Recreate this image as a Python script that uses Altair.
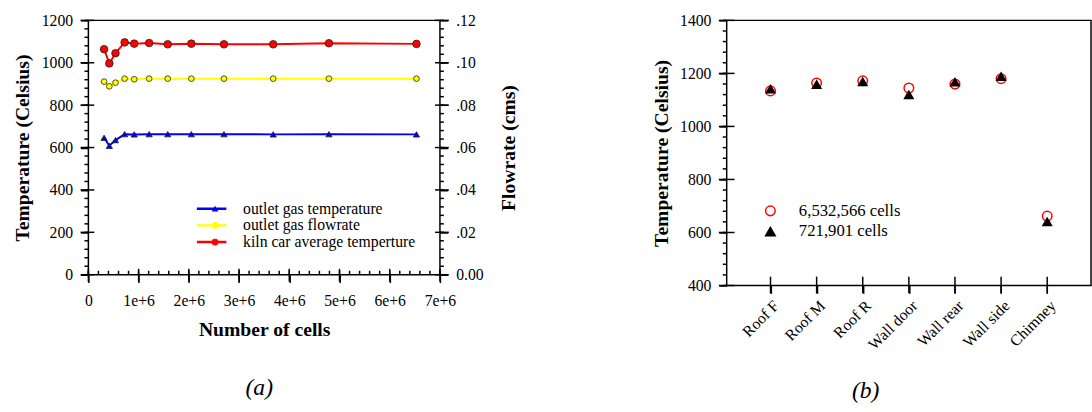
import altair as alt
import pandas as pd

FONT = "Liberation Serif"

# ---------------- panel (a) data ----------------
cells = [313000, 417000, 540000, 721901, 913000, 1210000, 1580000,
         2050000, 2700000, 3680000, 4790000, 6532566]
outlet_gas_temperature = [646, 608, 635, 663, 662, 663, 663, 663, 663, 662, 663, 662]
kiln_car_average_temperature = [1064, 997, 1045, 1096, 1090, 1093, 1087, 1090,
                                1087, 1087, 1092, 1089]
outlet_gas_flowrate = [0.0911, 0.0889, 0.0906, 0.0925, 0.0922, 0.0925, 0.0925,
                       0.0925, 0.0925, 0.0925, 0.0925, 0.0925]

series_names = ["outlet gas temperature", "outlet gas flowrate",
                "kiln car average temperture"]
series_colors = ["#0000ff", "#ffff00", "#ff0000"]
series_shapes = ["triangle-up", "circle", "circle"]

cells_ticks = [0, 1000000, 2000000, 3000000, 4000000, 5000000, 6000000, 7000000]
cells_minor = [i * 200000 for i in range(36)]
temp_ticks = [0, 200, 400, 600, 800, 1000, 1200]
temp_minor = [i * 40 for i in range(31)]
flow_ticks = [0.0, 0.02, 0.04, 0.06, 0.08, 0.10, 0.12]
flow_minor = [round(i * 0.004, 3) for i in range(31)]

# ---------------- panel (b) data ----------------
locations = ["Roof F", "Roof M", "Roof R", "Wall door", "Wall rear", "Wall side", "Chimney"]
mesh_names = ["6,532,566 cells", "721,901 cells"]
fine_mesh_temperature = [1134, 1164, 1172, 1145, 1160, 1180, 662]
coarse_mesh_temperature = [1141, 1158, 1168, 1119, 1167, 1188, 640]
b_ticks = [400, 600, 800, 1000, 1200, 1400]
b_minor = [400 + i * 40 for i in range(26)]

n = len(cells)
temp_df = pd.DataFrame({
    "cells": cells * 2,
    "value": outlet_gas_temperature + kiln_car_average_temperature,
    "series": [series_names[0]] * n + [series_names[2]] * n,
})
flow_df = pd.DataFrame({
    "cells": cells,
    "value": outlet_gas_flowrate,
    "series": [series_names[1]] * n,
})
m = len(locations)
b_df = pd.DataFrame({
    "location": locations * 2,
    "temperature": fine_mesh_temperature + coarse_mesh_temperature,
    "mesh": [mesh_names[0]] * m + [mesh_names[1]] * m,
})

W_A, H_A = 358, 259
W_B, H_B = 371, 270

# ---------------- axes (major ticks drawn outward by the axes themselves) ----------------
TICK = dict(ticks=True, tickSize=8, tickWidth=1.5, tickColor="black")
ax_cells = alt.Axis(orient="bottom", values=cells_ticks, grid=False, labelFlush=False,
                    labelExpr="datum.value == 0 ? '0' : format(datum.value / 1000000, 'd') + 'e+6'",
                    labelPadding=10, title="Number of cells", titlePadding=12, **TICK)
ax_temp = alt.Axis(orient="left", values=temp_ticks, grid=False, labelFlush=False,
                   labelExpr="format(datum.value, 'd')",
                   labelPadding=8, title="Temperature (Celsius)", titlePadding=9, **TICK)
ax_flow = alt.Axis(orient="right", values=flow_ticks, grid=False, labelFlush=False,
                   labelExpr="datum.value == 0 ? '0.00' : replace(format(datum.value, '.2f'), '0.', '.')",
                   labelPadding=8, title="Flowrate (cms)", titlePadding=36, titleAngle=270, **TICK)
ax_loc = alt.Axis(orient="bottom", labelAngle=-45, grid=False, title=None, labelPadding=4, **TICK)
ax_btemp = alt.Axis(orient="left", values=b_ticks, grid=False, labelFlush=False,
                    labelExpr="format(datum.value, 'd')",
                    labelPadding=8, title="Temperature (Celsius)", titlePadding=8, **TICK)

sc_cells = alt.Scale(domain=[0, 7000000], nice=False)
sc_temp = alt.Scale(domain=[0, 1200], nice=False)
sc_flow = alt.Scale(domain=[0, 0.12], nice=False)
sc_loc = alt.Scale(type="point", padding=0.95, domain=locations)
sc_btemp = alt.Scale(domain=[400, 1400], nice=False)


def vticks(values, field, ftype, scale, y_from, y_to):
    """tick marks across the x axis, positioned through an x scale with the same domain"""
    df = pd.DataFrame({field: values})
    return alt.Chart(df).mark_rule(color="black", strokeWidth=1.5).encode(
        x=alt.X(f"{field}:{ftype}", scale=scale, axis=None),
        y=alt.value(y_from), y2=alt.value(y_to))


def hticks(values, field, scale, x_from, x_to):
    """tick marks across a y axis, positioned through a y scale with the same domain"""
    df = pd.DataFrame({field: values})
    return alt.Chart(df).mark_rule(color="black", strokeWidth=1.5).encode(
        y=alt.Y(f"{field}:Q", scale=scale, axis=None),
        x=alt.value(x_from), x2=alt.value(x_to))


# ---------------- panel (a) ----------------
x_a = alt.X("cells:Q", scale=sc_cells, axis=ax_cells)
ty = alt.Y("value:Q", scale=sc_temp, axis=ax_temp)
fy = alt.Y("value:Q", scale=sc_flow, axis=ax_flow)

stroke_enc = alt.Stroke("series:N", scale=alt.Scale(domain=series_names, range=series_colors),
                        legend=alt.Legend(orient="none", legendX=109, legendY=183.5, title=None,
                                          symbolType="stroke", symbolSize=900, symbolStrokeWidth=2.5,
                                          labelOpacity=0, clipHeight=16.5, rowPadding=0, padding=0))
marker_legend = alt.Legend(orient="none", legendX=121, legendY=183.5, title=None,
                           labelFont=FONT, labelFontSize=16, labelOffset=20.5, labelColor="black",
                           labelLimit=400, clipHeight=16.5, rowPadding=0, padding=0, symbolSize=48,
                           symbolStrokeColor="#222222", symbolStrokeWidth=0.8)
fill_enc = alt.Fill("series:N", sort="descending", scale=alt.Scale(range=series_colors),
                    legend=marker_legend)
shape_enc = alt.Shape("series:N", sort="descending", scale=alt.Scale(range=series_shapes),
                      legend=marker_legend)

temp_line = alt.Chart(temp_df).mark_line(strokeWidth=2).encode(x=x_a, y=ty, stroke=stroke_enc)
temp_pts = alt.Chart(temp_df).mark_point(filled=True, stroke="#222222", strokeWidth=0.8, opacity=1).encode(
    x=x_a, y=ty, fill=fill_enc, shape=shape_enc,
    size=alt.condition("datum.series == 'kiln car average temperture'", alt.value(60), alt.value(40)))
flow_line = alt.Chart(flow_df).mark_line(strokeWidth=2).encode(x=x_a, y=fy, stroke=stroke_enc)
flow_pts = alt.Chart(flow_df).mark_point(filled=True, stroke="#222222", strokeWidth=0.8, opacity=1).encode(
    x=x_a, y=fy, fill=fill_enc, shape=shape_enc, size=alt.value(34))

a_data = (alt.layer(alt.layer(temp_line, temp_pts), alt.layer(flow_line, flow_pts))
          .resolve_scale(y="independent"))

a_ticks = (alt.layer(
    alt.layer(
        vticks(cells_ticks, "cells", "Q", sc_cells, H_A - 6, H_A + 7),
        vticks(cells_minor, "cells", "Q", sc_cells, H_A - 4, H_A),
        hticks(temp_ticks, "tick", sc_temp, -8, 6),
        hticks(temp_minor, "tick", sc_temp, -4, 0),
    ),
    alt.layer(
        hticks(flow_ticks, "tick", sc_flow, W_A - 5, W_A + 9),
        hticks(flow_minor, "tick", sc_flow, W_A, W_A + 4),
    ),
).resolve_scale(y="independent"))

caption_a = alt.TitleParams("(a)", orient="bottom", font=FONT, fontSize=24, fontStyle="italic",
                            fontWeight="normal", offset=38, anchor="middle", dx=-5, color="black")
panel_a = (alt.layer(a_data, a_ticks)
           .resolve_scale(x="independent", y="independent")
           .properties(width=W_A, height=H_A, title=caption_a))

# ---------------- panel (b) ----------------
bx = alt.X("location:N", scale=sc_loc, axis=ax_loc)
by = alt.Y("temperature:Q", scale=sc_btemp, axis=ax_btemp)
mesh_legend = alt.Legend(orient="none", legendX=36, legendY=183.5, title=None,
                         labelFont=FONT, labelFontSize=17, labelOffset=20.5, labelColor="black",
                         clipHeight=21, rowPadding=0, padding=0, symbolSize=95, symbolStrokeWidth=1.5)
b_pts = alt.Chart(b_df).mark_point(filled=True, strokeWidth=1.5, opacity=1).encode(
    x=bx, y=by,
    shape=alt.Shape("mesh:N", scale=alt.Scale(domain=mesh_names, range=["circle", "triangle-up"]),
                    legend=mesh_legend),
    stroke=alt.Stroke("mesh:N", scale=alt.Scale(domain=mesh_names, range=["#ff0000", "#000000"]),
                      legend=mesh_legend),
    fill=alt.Fill("mesh:N", scale=alt.Scale(domain=mesh_names, range=["transparent", "#000000"]),
                  legend=mesh_legend),
    size=alt.condition("datum.mesh == '721,901 cells'", alt.value(75), alt.value(95)),
)
b_ticks_layer = alt.layer(
    vticks(locations, "location", "N", sc_loc, H_B - 9, H_B + 8),
    hticks(b_ticks, "tick", sc_btemp, -8, 8),
    hticks(b_minor, "tick", sc_btemp, -4, 0),
)
caption_b = alt.TitleParams("(b)", orient="bottom", font=FONT, fontSize=24, fontStyle="italic",
                            fontWeight="normal", offset=28, anchor="middle", dx=-44, color="black")
panel_b = (alt.layer(b_pts, b_ticks_layer)
           .resolve_scale(x="independent", y="independent")
           .properties(width=W_B, height=H_B, title=caption_b))

chart = (alt.hconcat(panel_a, panel_b, spacing=134)
         .resolve_scale(fill="independent", shape="independent", stroke="independent")
         .properties(padding={"left": 12, "top": 8, "right": 0, "bottom": 0}, background="white")
         .configure_view(stroke="black", strokeWidth=1.5)
         .configure_axis(domain=False,
                         labelFont=FONT, labelFontSize=16, labelColor="black",
                         titleFont=FONT, titleFontSize=20, titleFontWeight="bold", titleColor="black")
         .configure_legend(labelFont=FONT))

chart.save("out.html", embed_options={"renderer": "svg", "actions": False})
